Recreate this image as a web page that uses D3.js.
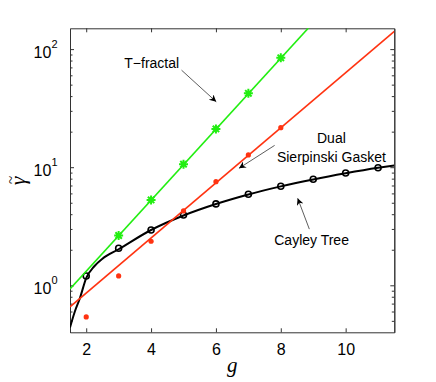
<!DOCTYPE html>
<meta charset="utf-8">
<style>
  body { margin: 0; background: #fff; }
  svg text { font-family: "Liberation Sans", Arial, sans-serif; fill: #000; }
  .axis path, .axis line { stroke: #333; stroke-width: 1; }
  .axis text { font-size: 16px; }
  .note { font-size: 14px; }
</style>
<body>
<div id="chart"></div>
<script src="https://d3js.org/d3.v7.min.js"></script>
<script>
  // T-fractal (green asterisks + straight fit in log space)
  const tGen = [3, 4, 5, 6, 7, 8];
  const tGamma = [2.64, 5.28, 10.6, 21.1, 42.2, 84.4];
  const tFitGen = [1.5, 9.2];
  const tFitGamma = [0.933, 192];

  // Dual Sierpinski Gasket (red dots + straight fit)
  const dGen = [2, 3, 4, 5, 6, 7, 8];
  const dGamma = [0.54, 1.2, 2.36, 4.26, 7.54, 12.7, 21.6];
  const dFitGen = [1.5, 11.5];
  const dFitGamma = [0.658, 141];

  // Cayley Tree (black circles + curved fit)
  const cGen = [2, 3, 4, 5, 6, 7, 8, 9, 10, 11];
  const cGamma = [1.2, 2.06, 2.94, 3.94, 4.89, 5.9, 6.9, 7.9, 8.93, 9.9];
  const cFitGen = [1.5, 1.65, 1.8, 2, 2.25, 2.5, 3, 4, 5, 6, 7, 8, 9, 10, 11, 11.5];
  const cFitGamma = [0.44, 0.6, 0.77, 1.15, 1.45, 1.68, 2.02, 2.94, 3.9, 4.88, 5.88, 6.88, 7.88, 8.88, 9.88, 10.35];

  const xTicks = [2, 4, 6, 8, 10];
  const yTicks = [1, 10, 100];
  const yTickExp = ["0", "1", "2"];

  // annotations: [text lines, g, gamma] and arrows [g0, v0, g1, v1]
  const notes = [
    {lines: ["T\u2212fractal"], g: 4.02, v: 76},
    {lines: ["Dual", "Sierpinski Gasket"], g: 9.56, v: 15.1},
    {lines: ["Cayley Tree"], g: 8.95, v: 2.42}
  ];
  const arrows = [
    [4.94, 66.3, 6.01, 35.8],
    [7.81, 15.3, 6.71, 9.79],
    [8.88, 2.99, 8.52, 5.46]
  ];

  const W = 436, H = 382;
  const margin = {top: 28.3, right: 41.7, bottom: 49.7, left: 70};
  const width = W - margin.left - margin.right;
  const height = H - margin.top - margin.bottom;

  const x = d3.scaleLinear().domain([1.5, 11.5]).range([0, width]);
  const y = d3.scaleLog().domain([0.4, 150]).range([height, 0]);

  const svg = d3.select("#chart").append("svg")
    .attr("width", W).attr("height", H);

  svg.append("defs").append("clipPath").attr("id", "clip")
    .append("rect").attr("width", width).attr("height", height);

  svg.select("defs").append("marker")
    .attr("id", "arrow")
    .attr("viewBox", "0 -5 10 10")
    .attr("refX", 10).attr("refY", 0)
    .attr("markerUnits", "userSpaceOnUse")
    .attr("markerWidth", 9).attr("markerHeight", 7)
    .attr("orient", "auto")
    .append("path")
    .attr("d", "M0,-5L10,0L0,5L3,0Z")
    .attr("fill", "#000");

  const g = svg.append("g")
    .attr("transform", `translate(${margin.left}, ${margin.top})`);

  // minor log ticks
  const minors = [];
  [0.1, 1, 10, 100].forEach(d => {
    for (let k = 2; k <= 9; k++) {
      const v = d * k;
      if (v > 0.4 && v < 150) minors.push(v);
    }
  });

  // axes (ticks pointing inward on all four sides)
  g.append("g").attr("class", "axis")
    .attr("transform", `translate(0, ${height})`)
    .call(d3.axisBottom(x).tickValues(xTicks).tickSizeInner(-4).tickSizeOuter(0).tickPadding(11.5));
  g.append("g").attr("class", "axis")
    .call(d3.axisTop(x).tickValues(xTicks).tickSizeInner(-4).tickSizeOuter(0).tickFormat(""));

  g.append("g").attr("class", "axis")
    .call(d3.axisLeft(y).tickValues(yTicks).tickSizeInner(-4).tickSizeOuter(0).tickFormat(""));
  g.append("g").attr("class", "axis")
    .call(d3.axisLeft(y).tickValues(minors).tickSizeInner(-2.5).tickSizeOuter(0).tickFormat(""));
  g.append("g").attr("class", "axis")
    .attr("transform", `translate(${width}, 0)`)
    .call(d3.axisRight(y).tickValues(yTicks).tickSizeInner(-4).tickSizeOuter(0).tickFormat(""));
  g.append("g").attr("class", "axis")
    .attr("transform", `translate(${width}, 0)`)
    .call(d3.axisRight(y).tickValues(minors).tickSizeInner(-2.5).tickSizeOuter(0).tickFormat(""));
  g.selectAll(".axis text").attr("fill", "#000");

  // y tick labels 10^n
  yTicks.forEach((v, i) => {
    const t = g.append("text")
      .attr("x", -12.5).attr("y", y(v) + 9)
      .attr("text-anchor", "end")
      .style("font-size", "16px");
    t.append("tspan").text("10");
    t.append("tspan").attr("dy", -10).style("font-size", "11px").text(yTickExp[i]);
  });

  const line = d3.line().x(d => x(d[0])).y(d => y(d[1]));
  const plot = g.append("g").attr("clip-path", "url(#clip)");

  // Cayley tree
  plot.append("path")
    .datum(d3.zip(cFitGen, cFitGamma))
    .attr("d", line.curve(d3.curveMonotoneX))
    .attr("fill", "none").attr("stroke", "#000").attr("stroke-width", 2);
  line.curve(d3.curveLinear);
  plot.selectAll(".cay").data(d3.zip(cGen, cGamma)).enter()
    .append("circle")
    .attr("cx", d => x(d[0])).attr("cy", d => y(d[1]))
    .attr("r", 3).attr("fill", "none").attr("stroke", "#000").attr("stroke-width", 1.6);

  // Dual Sierpinski gasket
  plot.append("path")
    .datum(d3.zip(dFitGen, dFitGamma))
    .attr("d", line)
    .attr("fill", "none").attr("stroke", "#ff3311").attr("stroke-width", 1.6);
  plot.selectAll(".dsg").data(d3.zip(dGen, dGamma)).enter()
    .append("circle")
    .attr("cx", d => x(d[0])).attr("cy", d => y(d[1]))
    .attr("r", 2.6).attr("fill", "#ff3311");

  // T-fractal
  const green = "#22ee11";
  plot.append("path")
    .datum(d3.zip(tFitGen, tFitGamma))
    .attr("d", line)
    .attr("fill", "none").attr("stroke", green).attr("stroke-width", 1.6);
  const star = "M-4.5,0H4.5M0,-4.5V4.5M-3.2,-3.2L3.2,3.2M-3.2,3.2L3.2,-3.2";
  plot.selectAll(".tf").data(d3.zip(tGen, tGamma)).enter()
    .append("path")
    .attr("transform", d => `translate(${x(d[0])}, ${y(d[1])})`)
    .attr("d", star)
    .attr("stroke", green).attr("stroke-width", 2).attr("fill", "none");

  // annotations
  notes.forEach(n => {
    const t = g.append("text").attr("class", "note")
      .attr("text-anchor", "middle")
      .attr("x", x(n.g)).attr("y", y(n.v));
    n.lines.forEach((s, i) => {
      t.append("tspan").attr("x", x(n.g))
        .attr("dy", i === 0 ? (0.35 - (n.lines.length - 1) * 0.6) + "em" : "1.4em")
        .text(s);
    });
  });
  arrows.forEach(a => {
    g.append("line")
      .attr("x1", x(a[0])).attr("y1", y(a[1]))
      .attr("x2", x(a[2])).attr("y2", y(a[3]))
      .attr("stroke", "#333").attr("stroke-width", 0.8)
      .attr("marker-end", "url(#arrow)");
  });

  // axis labels
  svg.append("text")
    .attr("x", margin.left + x(6.5)).attr("y", 372)
    .attr("text-anchor", "middle")
    .style("font-family", "'Liberation Serif', serif")
    .style("font-style", "italic").style("font-size", "21px")
    .text("g");

  const yl = svg.append("g").attr("transform", "translate(25, 181) rotate(-90)");
  yl.append("text")
    .attr("text-anchor", "middle")
    .style("font-family", "'Liberation Serif', serif")
    .style("font-style", "italic").style("font-size", "22px")
    .text("\u03b3");
  yl.append("text")
    .attr("y", -9).attr("x", 1)
    .attr("text-anchor", "middle")
    .style("font-family", "'Liberation Serif', serif")
    .style("font-size", "15px")
    .text("~");
</script>
</body>
